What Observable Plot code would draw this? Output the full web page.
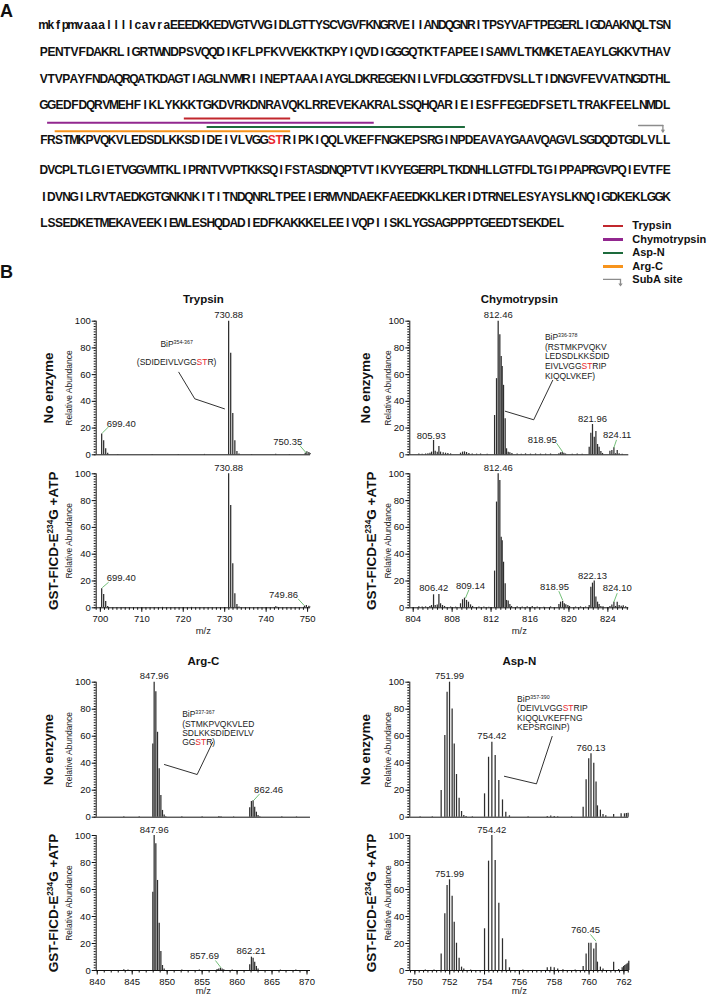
<!DOCTYPE html>
<html><head><meta charset="utf-8">
<script src="https://cdn.jsdelivr.net/npm/d3@7"></script>
<script src="https://cdn.jsdelivr.net/npm/@observablehq/plot@0.6"></script>
<style>
html,body{margin:0;padding:0;background:#fff;}
#root{position:relative;width:708px;height:997px;overflow:hidden;font-family:"Liberation Sans",Arial,sans-serif;color:#111;}
.plabel{position:absolute;font-weight:bold;font-size:18px;line-height:1;}
.lg{position:absolute;left:0;height:13.5px;line-height:13.5px;font-weight:bold;font-size:11px;white-space:nowrap;}
</style></head><body><div id="root"></div>
<script>
// ---------------- DATA ----------------
const seqLines = [
 "mkfpmvaaallllcavraEEEDKKEDVGTVVGIDLGTTYSCVGVFKNGRVEIIANDQGNRITPSYVAFTPEGERLIGDAAKNQLTSN",
 "PENTVFDAKRLIGRTWNDPSVQQDIKFLPFKVVEKKTKPYIQVDIGGGQTKTFAPEEISAMVLTKMKETAEAYLGKKVTHAV",
 "VTVPAYFNDAQRQATKDAGTIAGLNVMRIINEPTAAAIAYGLDKREGEKNILVFDLGGGTFDVSLLTIDNGVFEVVATNGDTHL",
 "GGEDFDQRVMEHFIKLYKKKTGKDVRKDNRAVQKLRREVEKAKRALSSQHQARIEIESFFEGEDFSETLTRAKFEELNMDL",
 "FRSTMKPVQKVLEDSDLKKSDIDEIVLVGGSTRIPKIQQLVKEFFNGKEPSRGINPDEAVAYGAAVQAGVLSGDQDTGDLVLL",
 "DVCPLTLGIETVGGVMTKLIPRNTVVPTKKSQIFSTASDNQPTVTIKVYEGERPLTKDNHLLGTFDLTGIPPAPRGVPQIEVTFE",
 "IDVNGILRVTAEDKGTGNKNKITITNDQNRLTPEEIERMVNDAEKFAEEDKKLKERIDTRNELESYAYSLKNQIGDKEKLGGK",
 "LSSEDKETMEKAVEEKIEWLESHQDADIEDFKAKKKELEEIVQPIISKLYGSAGPPPTGEEDTSEKDEL"
];
const modSites = [365, 366];
const enzymes = ["Trypsin", "Chymotrypsin", "Asp-N", "Arg-C"];
const enzymeColors = ["#c1272d", "#92278f", "#1d6b3c", "#f7941d"];
const pepStart = [354, 336, 357, 337];
const pepEnd = [367, 378, 390, 367];
const subASite = 416;
const rowLabels = ["No enzyme", "GST-FICD-E{sup:234}G +ATP"];

// spectra: [m/z, relative abundance]
const trypsinNoEnzyme = [[700.32,15.5],[700.80,10.5],[701.29,4.5],[701.77,1.2],[704.2,0.3],[712.5,0.3],[718.8,0.3],[725.1,0.3],
 [730.95,100],[731.45,76],[731.95,31],[732.45,10.5],[732.95,2.5],[733.45,0.6],[736.5,0.3],[742.3,0.5],[745.6,0.3],
 [749.43,1.2],[749.83,2.2],[750.31,1.8],[750.6,0.9]];
const trypsinFicd = [[700.32,14.2],[700.80,10],[701.29,4.7],[701.77,1],[705.5,0.3],[715,0.3],[722,0.3],
 [730.95,100],[731.45,76.4],[731.95,32.8],[732.45,10.4],[732.95,2.5],[733.45,0.6],[738,0.3],[742.3,0.8],[742.6,0.5],
 [749.25,1.2],[749.7,1.8],[750.3,1.2],[750.55,0.6]];
const chymoNoEnzyme = [[804.58,0.6],[804.92,0.5],[805.27,0.6],[805.51,0.7],[805.72,1.2],[805.89,2],[806.09,10.7],[806.26,2.7],[806.47,2],[806.64,6.2],[806.81,2],[807.08,1.5],[807.32,1.2],[807.56,0.9],[807.84,0.7],
 [808.86,1.2],[809.07,2],[809.27,2.2],[809.48,1.7],[809.72,1],[810.06,0.6],[810.51,0.5],[810.92,0.6],[811.6,0.5],
 [812.36,29.4],[812.56,57],[812.73,100],[812.90,89.8],[813.04,73.6],[813.14,66],[813.28,52],[813.45,27],[813.59,4.5],[813.76,2],[813.93,1.5],[814.14,1],
 [814.68,0.6],[815.1,0.5],[815.54,0.7],[816.05,0.5],[816.57,0.6],[817.08,0.5],[817.6,0.5],[818.11,0.6],
 [818.97,0.7],[819.14,1.5],[819.31,1.7],[819.48,1.2],[819.65,0.6],[820.34,0.5],[820.85,0.6],[821.36,0.5],
 [822.08,5.7],[822.25,16.2],[822.42,22.7],[822.6,13.2],[822.77,17.5],[822.94,7.7],[823.1,5.7],[823.28,2.5],[823.45,1],
 [824.21,2.7],[824.41,3.2],[824.62,5.2],[824.79,0.8],[824.96,3.2],[825.16,0.8],[825.47,0.5]];
const chymoFicd = [[804.58,0.7],[804.92,0.6],[805.27,0.7],[805.71,1],[805.88,1.7],[806.09,9.7],[806.26,1.7],[806.47,2],[806.64,10],[806.81,3],[807.01,1.7],[807.22,1],[807.84,0.6],[808.35,0.5],
 [808.86,3],[809.07,6],[809.27,7.2],[809.48,5.5],[809.68,4.2],[809.89,2.2],[810.1,1],[810.75,0.6],[811.26,0.6],[811.77,0.5],
 [812.36,27.4],[812.56,78.9],[812.73,100],[812.90,95],[813.04,52.7],[813.14,50],[813.28,34],[813.45,18],[813.59,5.5],[813.76,5],[813.93,2.5],[814.1,1],
 [814.68,0.8],[815.2,0.6],[815.71,0.7],[816.23,1],[816.74,0.6],[817.42,0.5],[818.11,0.7],
 [818.97,2.5],[819.14,4.2],[819.35,4.7],[819.52,3],[819.68,2.2],[819.89,1.7],[820.06,1],[820.68,0.6],[821.19,0.7],[821.71,0.6],
 [822.08,1.7],[822.25,15.4],[822.42,18.4],[822.6,20],[822.77,8],[822.94,4.2],[823.1,2.5],[823.28,1],[823.5,0.7],
 [824.21,1],[824.41,2],[824.62,4.2],[824.79,1],[824.96,4.2],[825.16,1.7],[825.37,1.2],[825.58,1.5],[825.82,0.8]];
const argcNoEnzyme = [[843.8,0.4],[846.0,0.3],[847.95,54.3],[848.14,100],[848.38,93],[848.62,62.9],[848.86,35.8],[849.1,16],[849.33,5],[849.57,1.7],[849.8,0.4],
 [852.1,0.4],[855.0,0.3],[857.4,0.6],[857.7,0.4],[859.5,0.3],
 [861.81,6.9],[862.05,11.6],[862.29,12.1],[862.52,7.4],[862.76,3.7],[863.0,1.2],[863.25,0.4],[866.4,0.3],[868.5,0.3]];
const argcFicd = [[843.8,0.5],[844.4,0.4],[847.95,58],[848.14,100],[848.38,93.8],[848.62,66.7],[848.86,35],[849.1,14],[849.33,3.7],[849.57,1.2],
 [852.1,0.4],[854.6,0.3],[857.14,0.7],[857.38,1.2],[857.62,1.7],[857.86,1.2],[858.1,0.6],[859.3,0.3],
 [861.81,4.2],[862.05,9.9],[862.29,9.1],[862.52,6.2],[862.76,3],[863.0,1.2],[866.2,0.3],[868.4,0.3]];
const aspnNoEnzyme = [[750.3,0.3],[751.0,0.3],[751.51,19.8],[751.72,60.5],[751.85,92.6],[751.99,100],[752.14,80.2],[752.26,54.3],[752.39,31.6],[752.54,14],[752.68,4.2],[752.81,1.2],[752.94,0.5],[753.3,0.3],
 [754.0,17.3],[754.23,44.4],[754.42,55.6],[754.61,45.7],[754.82,27.2],[755.03,12.8],[755.22,3.7],[755.43,1],
 [756.5,0.3],[757.6,0.6],[757.8,0.8],[758.0,0.6],[758.2,0.4],[759.0,0.3],
 [759.66,7.4],[759.83,27.7],[759.98,43.2],[760.11,47],[760.27,40],[760.4,26],[760.48,8.4],[760.65,5.2],[760.8,2],[760.96,1],
 [761.41,2],[761.84,2.5],[762.03,2.5],[762.14,2.8],[762.24,3]];
const aspnFicd = [[750.6,0.4],[751.1,0.3],[751.51,12.3],[751.72,42],[751.85,63],[751.99,67.2],[752.14,55],[752.26,35.8],[752.39,20.2],[752.54,9.1],[752.68,2.5],[752.81,1.2],[753.2,0.3],
 [754.0,30.9],[754.23,81],[754.42,100],[754.61,81.5],[754.82,49.9],[755.03,23.5],[755.22,7.9],[755.43,2],
 [756.2,0.4],[757.6,2],[757.8,2.5],[758.0,2],[758.2,1.2],[758.5,0.6],[759.2,0.4],
 [759.66,3],[759.83,12.3],[759.98,20.2],[760.11,20.2],[760.27,16],[760.4,20.2],[760.48,6.2],[760.65,2.5],[760.8,1.2],
 [761.41,6.2],[761.7,0.8],[761.9,2],[761.98,3],[762.05,3.7],[762.12,4.2],[762.18,4.9],[762.24,5.4],[762.28,6.9]];

// ---------------- HELPERS ----------------
const RED = "#e8262d";
const FONT = "'Liberation Sans', Arial, sans-serif";
const NARROW = "'Liberation Sans Narrow', 'Arial Narrow', 'Liberation Sans', sans-serif";
const root = document.getElementById("root");
function place(el, left, top) { el.style.position = "absolute"; el.style.left = left + "px"; el.style.top = top + "px"; root.appendChild(el); return el; }
const lineStarts = []; { let acc = 1; for (const s of seqLines) { lineStarts.push(acc); acc += s.length; } }
const fullSeq = seqLines.join("");
function lineOf(r) { let L = 0; lineStarts.forEach((st, k) => { if (st <= r) L = k; }); return L; }
function markup(res, firstNum) {
  let out = "", buf = "", inRed = false;
  for (let k = 0; k < res.length; k++) {
    const red = modSites.includes(firstNum + k);
    if (red !== inRed) { out += inRed ? `{r:${buf}}` : buf; buf = ""; inRed = red; }
    buf += res[k];
  }
  return out + (inRed ? `{r:${buf}}` : buf);
}
function annoLines(p, breaks) {
  const s = fullSeq.slice(pepStart[p] - 1, pepEnd[p]);
  const cuts = [0, ...breaks, s.length], out = [];
  for (let k = 0; k < cuts.length - 1; k++) {
    let t = markup(s.slice(cuts[k], cuts[k + 1]), pepStart[p] + cuts[k]);
    if (k === 0) t = "(" + t;
    if (k === cuts.length - 2) t = t + ")";
    out.push(t);
  }
  return [`BiP{sup:${pepStart[p]}-${pepEnd[p]}}`, ...out];
}
function richify(svg) {
  svg.querySelectorAll("text, tspan").forEach(el => {
    if (![...el.childNodes].every(n => n.nodeType === 3)) return;
    const s = el.textContent;
    if (!s.includes("{")) return;
    el.textContent = "";
    const re = /\{(r|sup):([^}]*)\}/g; let last = 0, m;
    while ((m = re.exec(s))) {
      if (m.index > last) el.appendChild(document.createTextNode(s.slice(last, m.index)));
      const t = document.createElementNS("http://www.w3.org/2000/svg", "tspan");
      t.textContent = m[2];
      if (m[1] === "r") t.setAttribute("fill", RED);
      else { t.setAttribute("font-size", "62%"); t.setAttribute("baseline-shift", "super"); }
      el.appendChild(t); last = re.lastIndex;
    }
    if (last < s.length) el.appendChild(document.createTextNode(s.slice(last)));
  });
}

// ---------------- PANEL A ----------------
// vertical layout of sequence rows (row index -> pixel), with extra room for the underlines
const rowY = d3.scaleLinear().domain([0, 3, 4, 5, 7]).range([24.5, 105, 139.5, 169.5, 223]);
const refIdx = lineOf(pepStart[0]);
const slots = seqLines[refIdx].length;
// each residue sits in its own slot; full rows are justified over the same width, the last row is not
const seqChars = [];
seqLines.forEach((s, L) => {
  const step = L === seqLines.length - 1 ? 1 : slots / s.length;
  for (let k = 0; k < s.length; k++)
    seqChars.push({c: s[k], x: (k + 0.5) * step, step, y: rowY(L), fill: modSites.includes(lineStarts[L] + k) ? RED : "#111"});
});
const under = enzymes.map((e, j) => ({color: enzymeColors[j], x1: pepStart[j] - lineStarts[refIdx], x2: pepEnd[j] - lineStarts[refIdx] + 1, y: rowY(refIdx - 1 + 0.377 + 0.123 * j)}));
const subX = subASite - lineStarts[refIdx] + 1;
const yHook = rowY(refIdx - 1 + 0.58), yTip = rowY(refIdx - 1 + 0.77);
const svgA = Plot.plot({
  width: 708, height: 240, margin: 0,
  style: {overflow: "visible", background: "transparent", fontFamily: FONT},
  x: {domain: [0, slots], range: [39.5, 670], axis: null},
  y: {type: "identity", axis: null},
  color: {type: "identity"},
  marks: [
    Plot.text(seqChars, {x: "x", y: "y", text: "c", fill: "fill", fontFamily: NARROW, fontWeight: "bold", fontSize: 12, ariaLabel: "sequence"}),
    Plot.ruleY(under, {y: "y", x1: "x1", x2: "x2", stroke: "color", strokeWidth: 2.2}),
    Plot.line([[subX - 3.2, yHook], [subX, yHook]], {x: d => d[0], y: d => d[1], stroke: "#8c8c8c", strokeWidth: 1.3}),
    Plot.arrow([{x: subX, y1: yHook, y2: yTip}], {x1: "x", x2: "x", y1: "y1", y2: "y2", stroke: "#8c8c8c", strokeWidth: 1.3, headLength: 4})
  ]
});
place(svgA, 0, 0);
{
  // squeeze the few glyphs that are wider than their residue slot
  const xs = svgA.scale("x");
  svgA.querySelectorAll('g[aria-label="sequence"] text').forEach((t, k) => {
    const room = (xs.apply(seqChars[k].step) - xs.apply(0)) - 0.6;
    if (t.getComputedTextLength() > room) {
      t.setAttribute("textLength", room);
      t.setAttribute("lengthAdjust", "spacingAndGlyphs");
    }
  });
}

// panel letters
const la = document.createElement("div"); la.className = "plabel"; la.textContent = "A"; place(la, 0, 1.8);
const lb = document.createElement("div"); lb.className = "plabel"; lb.textContent = "B"; place(lb, 0, 263);

// legend
{
  const lg = document.createElement("div");
  lg.style.width = "104px"; lg.style.height = "70px";
  place(lg, 603.3, 219.3);
  const items = [...enzymes.map((e, j) => ({label: e, color: enzymeColors[j]})), {label: "SubA site", arrow: true}];
  items.forEach((it, k) => {
    const row = document.createElement("div"); row.className = "lg"; row.style.top = (13.5 * k) + "px"; row.style.width = "104px";
    if (it.arrow) {
      row.innerHTML = `<svg width="22" height="14" style="position:absolute;left:0;top:0;overflow:visible"><path d="M0,6.3H17.5V12" fill="none" stroke="#8c8c8c" stroke-width="1.3"/><path d="M15.3,10.5L17.5,13.5L19.7,10.5Z" fill="#8c8c8c"/></svg>`;
    } else {
      row.innerHTML = `<span style="position:absolute;left:0;top:5.7px;width:20px;height:2.2px;background:${it.color}"></span>`;
    }
    const sp = document.createElement("span"); sp.style.position = "absolute"; sp.style.left = "29px"; sp.textContent = it.label;
    row.appendChild(sp); lg.appendChild(row);
  });
}

// ---------------- PANEL B ----------------
const COLS = [{left: 0, width: 340, ml: 95.7, mr: 30, relDx: -27.4, topDx: -48, botDx: -42.4},
              {left: 354, width: 354, ml: 55.3, mr: 79.7, relDx: -22, topDx: -44.3, botDx: -38.6}];
const ROWS = {
  r1top: {top: 290, mt: 30.7, h: 133.6, mb: 6},
  r1bot: {top: 460, mt: 13.3, h: 134, mb: 32},
  r2top: {top: 650, mt: 31.7, h: 135, mb: 6},
  r2bot: {top: 822, mt: 13, h: 135, mb: 29}
};

function spectrum(p) {
  const col = COLS[p.col], row = ROWS[p.row];
  const W = col.width, H = row.mt + row.h + row.mb, ppu = row.h / 100;
  const bottom = !!p.major;
  const marks = [
    Plot.ruleX(p.peaks, {x: d => d[0], y1: 0, y2: d => d[1], stroke: "#2e2e2e", strokeWidth: 1.25}),
    Plot.ruleY([0], {stroke: "#111", strokeWidth: 1}),
    Plot.ruleX([p.domain[0]], {stroke: "#111", strokeWidth: 1}),
    Plot.axisY(d3.range(0, 101, 2), {tickSize: 2, tickFormat: () => "", label: null}),
    Plot.axisY(d3.range(0, 101, 20), {tickSize: 4, tickPadding: 1.5, label: null, fontSize: 9.5}),
    Plot.text([rowLabels[bottom ? 1 : 0]], {text: d => d, frameAnchor: "left", textAnchor: "middle", dx: bottom ? col.botDx : col.topDx, rotate: -90, fontWeight: "bold", fontSize: 13.5, fill: "#111"}),
    Plot.text(["Relative Abundance"], {text: d => d, frameAnchor: "left", textAnchor: "middle", dx: col.relDx, rotate: -90, fontSize: 8.5, fill: "#222"}),
    Plot.text(p.peakLabels, {x: d => d[1], y: d => d[2], text: d => d[0], dy: -6, fontSize: 9.5, fill: "#222"}),
    Plot.text(p.freeLabels || [], {x: d => d[1], y: d => d[2], text: d => d[0], fontSize: 9.5, fill: "#222"}),
    Plot.link(p.leaders || [], {x1: d => d[0], y1: d => d[1], x2: d => d[2], y2: d => d[3], stroke: "#4fae55", strokeWidth: 0.8})
  ];
  if (p.title) marks.push(Plot.text([p.title], {text: d => d, frameAnchor: "top", textAnchor: "middle", dy: p.titleDy, fontWeight: "bold", fontSize: 11.5, fill: "#111"}));
  if (p.anno) {
    const a = p.anno;
    const lines = annoLines(a.pep, a.breaks);
    const rows = lines.map((t, k) => ({t, mz: a.mz, i: k === 0 ? a.i : a.i - (a.gap + (k - 1) * a.lh) / ppu}));
    marks.push(Plot.text(rows, {x: "mz", y: "i", text: "t", textAnchor: a.anchor, fontSize: 8.5, fill: "#1a1a1a", ariaLabel: "annotation"}));
    marks.push(Plot.line(a.leader, {x: d => d[0], y: d => d[1], stroke: "#1a1a1a", strokeWidth: 0.9}));
  }
  if (bottom) {
    marks.push(Plot.axisX(p.minor, {tickSize: 2.5, tickFormat: () => "", label: null}));
    marks.push(Plot.axisX(p.major, {tickSize: 4.5, tickPadding: 3, label: null, fontSize: 9.5}));
    marks.push(Plot.text(["m/z"], {text: d => d, frameAnchor: "bottom", textAnchor: "middle", dy: p.mzDy, fontSize: 9.5, fill: "#222"}));
  }
  const svg = Plot.plot({
    width: W, height: H, marginLeft: col.ml, marginRight: col.mr, marginTop: row.mt, marginBottom: row.mb,
    style: {overflow: "visible", background: "transparent", fontFamily: FONT, fontSize: "9.5px"},
    x: bottom ? {domain: p.domain} : {domain: p.domain, axis: null},
    y: {domain: [0, 100]},
    marks
  });
  place(svg, col.left, row.top);
  richify(svg);
  if (p.anno) {
    svg.querySelectorAll('g[aria-label="annotation"] text').forEach((t, k) => {
      if (k === 0) return;
      const L = t.getComputedTextLength();
      t.setAttribute("textLength", L * p.anno.pxPerEm / 8.5);
      t.setAttribute("lengthAdjust", "spacingAndGlyphs");
    });
  }
}

const trypDomain = [699, 750.7], chymoDomain = [803.65, 826.15], argDomain = [839.85, 870.5], aspDomain = [749.71, 762.28];

spectrum({col: 0, row: "r1top", title: "Trypsin", titleDy: -26.7, domain: trypDomain, peaks: trypsinNoEnzyme,
  peakLabels: [["730.88", 730.95, 100]],
  freeLabels: [["699.40", 705.03, 23.2], ["750.35", 745.2, 9.7]],
  leaders: [[700.45, 16.2, 702.0, 21.0], [748.1, 7, 749.7, 1.3]],
  anno: {pep: 0, breaks: [], mz: 718.4, i: 83.1, anchor: "middle", gap: 18.4, lh: 9.5, pxPerEm: 5.6,
         leader: [[718.92, 61.8], [722.78, 41.9], [729.94, 34.4]]}});
spectrum({col: 0, row: "r1bot", domain: trypDomain, peaks: trypsinFicd,
  peakLabels: [["730.88", 730.95, 100]],
  freeLabels: [["699.40", 705.03, 22.4], ["749.86", 744.2, 9.9]],
  leaders: [[700.45, 15, 702.0, 19.1], [747.7, 6.7, 749.2, 1.7]],
  major: d3.range(700, 751, 10), minor: d3.range(699, 751, 1), mzDy: 26});
spectrum({col: 1, row: "r1top", title: "Chymotrypsin", titleDy: -26.7, domain: chymoDomain, peaks: chymoNoEnzyme,
  peakLabels: [["812.46", 812.73, 100], ["821.96", 822.42, 22.7]],
  freeLabels: [["805.93", 805.85, 14.4], ["818.95", 817.26, 11.2], ["824.11", 824.96, 15]],
  leaders: [[818.73, 8.7, 819.37, 2], [824.89, 11.2, 824.61, 5.2]],
  anno: {pep: 1, breaks: [10, 22, 34], mz: 817.53, i: 88.0, anchor: "start", gap: 9.6, lh: 9.7, pxPerEm: 6.4,
         leader: [[818.33, 55.7], [816.38, 26.2], [813.46, 32.6]]}});
spectrum({col: 1, row: "r1bot", domain: chymoDomain, peaks: chymoFicd,
  peakLabels: [["812.46", 812.73, 100]],
  freeLabels: [["806.42", 806.12, 14.9], ["809.14", 809.89, 16.6], ["818.95", 818.52, 15.9], ["822.13", 822.42, 24.1], ["824.10", 824.96, 14.9]],
  leaders: [[809.72, 13.4, 809.37, 7.2], [818.96, 12.4, 819.37, 5.4], [824.96, 10.9, 824.61, 4.2]],
  major: d3.range(804, 825, 4), minor: d3.range(804, 826.01, 0.5), mzDy: 26});
spectrum({col: 0, row: "r2top", title: "Arg-C", titleDy: -25.7, domain: argDomain, peaks: argcNoEnzyme,
  peakLabels: [["847.96", 848.14, 100]],
  freeLabels: [["862.46", 864.51, 20.3]],
  leaders: [[862.37, 12.4, 863.23, 17.3]],
  anno: {pep: 3, breaks: [12, 26], mz: 852.14, i: 75.9, anchor: "start", gap: 10, lh: 9, pxPerEm: 9.9,
         leader: [[856.51, 55.6], [854.29, 31.6], [849.61, 39.0]]}});
spectrum({col: 0, row: "r2bot", domain: argDomain, peaks: argcFicd,
  peakLabels: [["847.96", 848.14, 100]],
  freeLabels: [["857.69", 855.33, 11.1], ["862.21", 862.0, 14.3]],
  leaders: [[856.9, 7.4, 857.71, 2]],
  major: d3.range(840, 871, 5), minor: d3.range(840, 871, 1), mzDy: 23.3});
spectrum({col: 1, row: "r2top", title: "Asp-N", titleDy: -25.7, domain: aspDomain, peaks: aspnNoEnzyme,
  peakLabels: [["751.99", 751.99, 100], ["754.42", 754.42, 55.6], ["760.13", 760.11, 47]],
  anno: {pep: 2, breaks: [13, 25], mz: 755.87, i: 87.0, anchor: "start", gap: 9, lh: 9.2, pxPerEm: 8.3,
         leader: [[757.88, 59.8], [756.98, 24.7], [755.14, 30.3]]}});
spectrum({col: 1, row: "r2bot", domain: aspDomain, peaks: aspnFicd,
  peakLabels: [["754.42", 754.42, 100], ["751.99", 751.99, 67.2]],
  freeLabels: [["760.45", 759.79, 30.1]],
  leaders: [[760.08, 26.7, 760.4, 21.7]],
  major: d3.range(750, 763, 2), minor: d3.range(749.75, 762.26, 0.25), mzDy: 23.3});
</script></body></html>
